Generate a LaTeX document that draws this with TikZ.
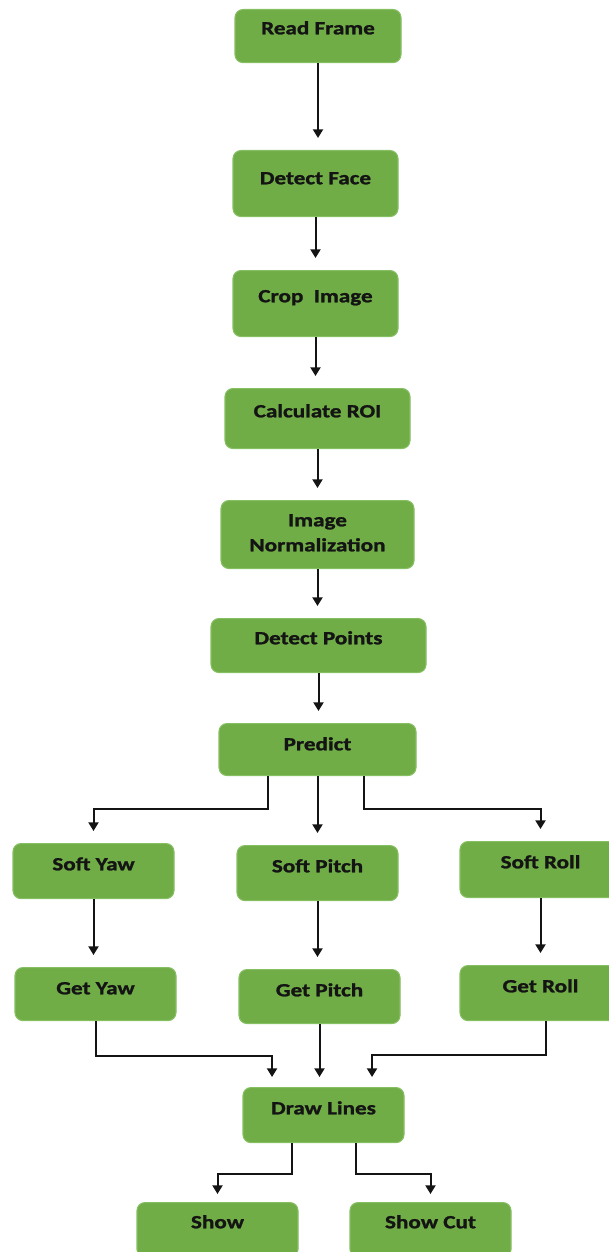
\documentclass[tikz,border=0pt]{standalone}
\usepackage{fontspec}
\setmainfont{Carlito}[FakeStretch=1.24,BoldFeatures={FakeBold=1.3}]
\usetikzlibrary{arrows.meta}
\definecolor{boxgreen}{HTML}{70AD47}
\definecolor{boxedge}{HTML}{86BE62}
\definecolor{ink}{HTML}{141414}

\begin{document}
\begin{tikzpicture}[x=0.75pt,y=-0.75pt,line width=1.5pt,
    >={Triangle[width=7.5pt,length=6.5pt]},
    blk/.style={anchor=north,fill=boxgreen,draw=boxedge,line width=0.8pt,
      rounded corners=6pt,inner ysep=0pt,inner xsep=2pt,align=center,
      text=ink,font=\fontsize{14}{18.75}\selectfont\bfseries,
      minimum width=120.75pt},
    arr/.style={->,ink,shorten >=9pt}]
  \useasboundingbox (0,0) rectangle (609,1252);
  % main column
  \node[blk,minimum width=124.5pt,text height=18.6pt,text depth=21.2pt] (read) at (318,9) {Read Frame};
  \node[blk,minimum width=123.75pt,text height=25.3pt,text depth=24.2pt] (face) at (315.5,150) {Detect Face};
  \node[blk,minimum width=123.75pt,text height=23.8pt,text depth=25.7pt] (crop) at (315.5,270) {Crop\ \ Image};
  \node[blk,minimum width=138.75pt,text height=21.6pt,text depth=23.4pt] (roi) at (317.5,388) {Calculate ROI};
  \node[blk,minimum width=144.75pt,text height=38.1pt,text depth=12.9pt] (norm) at (317.5,500) {Image\\Normalization};
  \node[blk,minimum width=161.25pt,text height=19.3pt,text depth=21.2pt] (points) at (318.5,618) {Detect Points};
  \node[blk,minimum width=147.75pt,text height=20.1pt,text depth=18.9pt] (predict) at (317.5,723) {Predict};
  % three angles
  \node[blk,text height=20.1pt,text depth=21.2pt] (syaw) at (93.5,843) {Soft Yaw};
  \node[blk,text height=20.1pt,text depth=21.2pt] (spitch) at (317.5,845) {Soft Pitch};
  \node[blk,text height=20.1pt,text depth=21.9pt] (sroll) at (540.5,841) {Soft Roll};
  \node[blk,text height=20.1pt,text depth=19.7pt] (gyaw) at (95.5,967) {Get Yaw};
  \node[blk,text height=20.1pt,text depth=20.4pt] (gpitch) at (319.5,969) {Get Pitch};
  \node[blk,text height=20.1pt,text depth=21.2pt] (groll) at (540.5,965) {Get Roll};
  % output
  \node[blk,text height=20.1pt,text depth=21.2pt] (lines) at (323.5,1087) {Draw Lines};
  \node[blk,text height=19.3pt,text depth=21.9pt] (show) at (217.5,1202) {Show};
  \node[blk,text height=19.3pt,text depth=21.9pt] (showcut) at (430.5,1202) {Show Cut};

  \draw[arr] (read) -- (read |- face.north);
  \draw[arr] (face) -- (face |- crop.north);
  \draw[arr] (crop) -- (crop |- roi.north);
  \draw[arr] (roi) -- (roi |- norm.north);
  \draw[arr] (norm) -- (norm |- points.north);
  \draw[arr] (points) -- (points |- predict.north);
  \draw[arr] ([xshift=-37.1pt]predict.south) -- ++(0,33) -| (syaw.north);
  \draw[arr] (predict) -- (predict |- spitch.north);
  \draw[arr] ([xshift=34.9pt]predict.south) -- ++(0,33) -| (sroll.north);
  \draw[arr] (syaw) -- (syaw |- gyaw.north);
  \draw[arr] (spitch) -- (spitch |- gpitch.north);
  \draw[arr] (sroll) -- (sroll |- groll.north);
  \draw[arr,shorten >=7.5pt] (gyaw.south) -- ++(0,35) -| ([xshift=-38.6pt]lines.north);
  \draw[arr,shorten >=7.5pt] (gpitch) -- (gpitch |- lines.north);
  \draw[arr,shorten >=7.5pt] ([xshift=4pt]groll.south) -- ++(0,34) -| ([xshift=36.4pt]lines.north);
  \draw[arr,shorten >=6pt] ([xshift=-23.6pt]lines.south) -- ++(0,31) -| (show.north);
  \draw[arr,shorten >=6pt] ([xshift=24pt]lines.south) -- ++(0,31) -| (showcut.north);
\end{tikzpicture}
\end{document}
